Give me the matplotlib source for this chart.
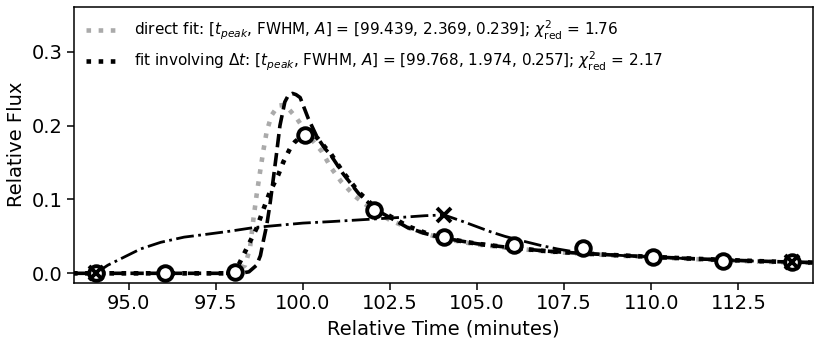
import matplotlib
matplotlib.use("Agg")
import matplotlib.pyplot as plt

# observed 2-min cadence points
t_obs = [94.05, 96.05, 98.05, 100.05, 102.05, 104.05, 106.05, 108.05, 110.05, 112.05, 114.05]
f_obs = [0.0, 0.001, 0.002, 0.187, 0.0857, 0.0487, 0.0383, 0.0338, 0.0225, 0.0166, 0.0157]

# 10-min cadence points
t_long = [94.05, 104.05, 114.05]
f_long = [0.0, 0.079, 0.0157]

# direct fit model (grey dotted)
t_direct = [93.4, 97.9, 98.1, 98.34, 98.48, 98.58, 98.67, 98.77, 98.86, 98.96, 99.1, 99.29,
            99.45, 99.6, 99.82, 100.15, 100.54, 100.82, 101.1, 101.5, 102.0, 102.5, 103.0,
            103.5, 104.0, 105.0, 106.0, 107.0, 108.0, 109.0, 110.0, 111.0, 112.0, 113.0, 114.0, 114.7]
f_direct = [0.0, 0.0, 0.002, 0.011, 0.034, 0.074, 0.106, 0.1375, 0.165, 0.192, 0.214, 0.227,
            0.228, 0.222, 0.21, 0.187, 0.165, 0.142, 0.124, 0.104, 0.086, 0.072, 0.062,
            0.054, 0.047, 0.039, 0.034, 0.0295, 0.0265, 0.024, 0.0218, 0.0197, 0.0177, 0.016, 0.0147, 0.0141]

# fit involving dt: intrinsic model (dashed)
t_model = [93.4, 98.2, 98.45, 98.67, 98.78, 98.86, 98.96, 99.05, 99.15, 99.25, 99.34, 99.48,
           99.58, 99.7, 99.8, 99.92, 100.15, 100.4, 100.63, 100.8, 101.15, 101.6, 102.1,
           102.7, 103.0, 103.5, 104.0, 105.0, 106.0, 107.0, 108.0, 109.0, 110.0, 111.0,
           112.0, 113.0, 114.0, 114.7]
f_model = [0.0, 0.0, 0.002, 0.011, 0.024, 0.043, 0.065, 0.092, 0.128, 0.165, 0.2, 0.232,
           0.241, 0.2436, 0.242, 0.238, 0.21, 0.185, 0.169, 0.16, 0.135, 0.108, 0.086,
           0.07, 0.062, 0.054, 0.048, 0.04, 0.0345, 0.03, 0.027, 0.0245, 0.0223, 0.0202,
           0.0183, 0.0166, 0.0152, 0.0145]

# fit involving dt: model integrated over the exposure (black dotted)
t_binned = [93.4, 97.9, 98.0, 98.15, 98.39, 98.67, 98.86, 99.05, 99.29, 99.44, 99.63, 99.77,
            100.0, 100.2, 100.4, 100.63, 100.8, 101.15, 101.6, 102.1, 102.7, 103.0, 103.5,
            104.0, 105.0, 106.0, 107.0, 108.0, 109.0, 110.0, 111.0, 112.0, 113.0, 114.0, 114.7]
f_binned = [0.0, 0.0, 0.002, 0.011, 0.034, 0.061, 0.086, 0.11, 0.133, 0.151, 0.169, 0.178,
            0.187, 0.188, 0.184, 0.171, 0.162, 0.137, 0.11, 0.088, 0.072, 0.064, 0.055,
            0.048, 0.04, 0.0345, 0.03, 0.027, 0.0245, 0.0223, 0.0202, 0.0183, 0.0166, 0.0152, 0.0145]

# fit involving dt: model integrated over the long exposure (dash-dot)
t_long_model = [94.05, 94.4, 94.87, 95.34, 95.92, 96.59, 97.26, 97.9, 98.6, 99.3, 100.0,
                100.8, 101.5, 102.2, 102.9, 103.5, 104.05, 104.6, 105.0, 105.4, 105.8, 106.2,
                106.8, 107.3, 107.8, 108.5, 109.2, 110.0, 111.0, 112.0, 113.0, 114.05, 114.7]
f_long_model = [0.0, 0.011, 0.022, 0.033, 0.042, 0.049, 0.053, 0.057, 0.062, 0.065, 0.068,
                0.07, 0.072, 0.074, 0.076, 0.078, 0.079, 0.07, 0.063, 0.056, 0.05, 0.045,
                0.038, 0.033, 0.029, 0.026, 0.024, 0.0222, 0.02, 0.0178, 0.0165, 0.0155, 0.0145]

label_direct = r"direct fit: [$t_{peak}$, FWHM, $A$] = [99.439, 2.369, 0.239]; $\chi^2_{\rm red}$ = 1.76"
label_dt = r"fit involving $\Delta t$: [$t_{peak}$, FWHM, $A$] = [99.768, 1.974, 0.257]; $\chi^2_{\rm red}$ = 2.17"

plt.rcParams['font.size'] = 14

fig = plt.figure(figsize=(8.3, 3.46), dpi=100)
ax = fig.add_axes([0.0892, 0.183, 0.8903, 0.7976])

ax.plot(t_direct, f_direct, ':', color='#aaaaaa', lw=3.3, label=label_direct)
ax.plot(t_binned, f_binned, ':', color='black', lw=3.3, label=label_dt)
ax.plot(t_model, f_model, '--', color='black', lw=2.6)
ax.plot(t_long_model, f_long_model, '-.', color='black', lw=2.0)
ax.plot(t_obs, f_obs, 'o', ms=10.5, mfc='white', mec='black', mew=2.8)
ax.plot(t_long, f_long, 'x', ms=10.5, color='black', mew=2.8)

ax.set_xlim(93.43, 114.64)
ax.set_ylim(-0.0127, 0.361)
ax.set_xticks([95.0, 97.5, 100.0, 102.5, 105.0, 107.5, 110.0, 112.5])
ax.set_yticks([0.0, 0.1, 0.2, 0.3])
ax.xaxis.set_major_formatter(matplotlib.ticker.FormatStrFormatter('%.1f'))
ax.tick_params(length=5, width=1.1)
for s in ax.spines.values():
    s.set_linewidth(1.1)
ax.set_xlabel('Relative Time (minutes)')
ax.set_ylabel('Relative Flux')
ax.legend(loc='upper left', frameon=False, fontsize=11, handlelength=2.3,
          labelspacing=0.5, borderaxespad=0.4)

fig.savefig('out.png', dpi=100)
